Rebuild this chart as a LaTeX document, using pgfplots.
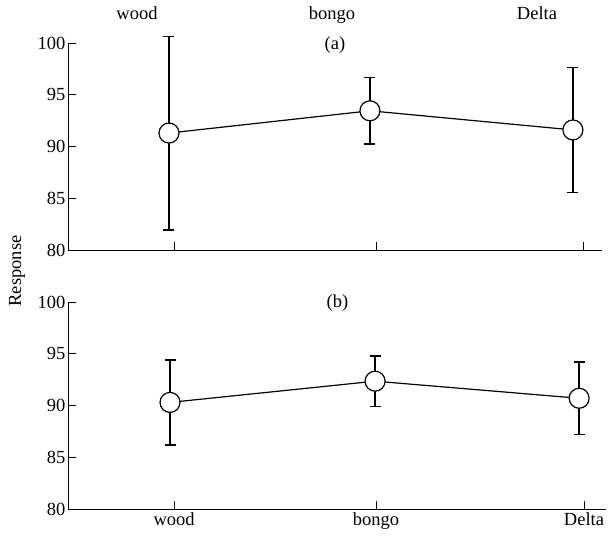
\documentclass[border=0pt]{standalone}
\usepackage{fontspec}
\setmainfont{Liberation Serif}
\usepackage{pgfplots}
\pgfplotsset{compat=1.18}
\begin{document}
\begin{tikzpicture}[x=1pt,y=1pt]
\path[use as bounding box] (0,0) rectangle (608,-541);
\pgfplotsset{
 panel/.style={
  scale only axis, height=207pt,
  xmin=-0.5, ymin=80, ymax=100,
  axis x line*=bottom, axis y line*=left,
  ytick={80,85,90,95,100},
  xtick={0.025,1.025,2.054},
  tick align=inside,
  major tick length=8pt,
  tick style={line width=0.9pt, black},
  axis line style={line width=0.9pt, black},
  font=\fontsize{18.5}{22}\selectfont,
  yticklabel style={inner sep=2.5pt},
  /pgf/number format/assume math mode=true,
  clip=false,
 },
 ser/.style={
  black, line width=1.2pt,
  mark=*, mark size=10pt,
  mark options={fill=white, draw=black, line width=1.2pt},
  error bars/.cd, y dir=both, y explicit,
  error bar style={line width=1.4pt, black},
  error mark options={rotate=90, mark size=5.5pt, line width=1.4pt, black},
 },
}
\begin{axis}[panel, at={(68pt,-250pt)}, anchor=south west,
  width=534pt, xmax=2.144, xticklabels={}]
\addplot+[ser] coordinates {
 (0,91.3) +- (0,9.35)
 (0.995,93.45) +- (0,3.2)
 (2.0,91.6) +- (0,6.05)
};
\end{axis}
\begin{axis}[panel, at={(68pt,-509pt)}, anchor=south west,
  width=538pt, xmax=2.163, xticklabels={wood,bongo,Delta}]
\addplot+[ser] coordinates {
 (0.005,90.3) +- (0,4.1)
 (1.02,92.35) +- (0,2.45)
 (2.03,90.7) +- (0,3.5)
};
\end{axis}
\begin{scope}[font=\fontsize{18.5}{22}\selectfont]
\node[anchor=base] at (137,-19) {wood};
\node[anchor=base] at (332,-19) {bongo};
\node[anchor=base] at (537,-19) {Delta};
\node at (335,-45.5) {(a)};
\node at (337.5,-303) {(b)};
\node[rotate=90] at (17,-271) {Response};
\end{scope}
\end{tikzpicture}
\end{document}
